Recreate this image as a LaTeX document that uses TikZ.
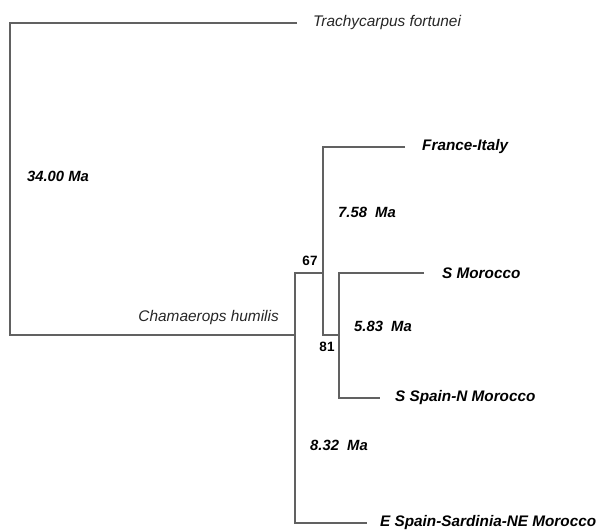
\documentclass[tikz,border=0pt]{standalone}
\usepackage{fontspec}
\setmainfont{Liberation Sans}
\usetikzlibrary{positioning}

\begin{document}
\begin{tikzpicture}[x=1pt,y=-1pt,
  branch/.style={line width=1.4pt,black!62},
  taxon/.style={font=\fontsize{15.3}{18}\selectfont\bfseries\itshape,inner sep=0pt},
  species/.style={font=\fontsize{15.4}{18}\selectfont\itshape,text=black!85,inner sep=0pt},
  age/.style={font=\fontsize{14.8}{18}\selectfont\bfseries\itshape,inner sep=0pt},
  boot/.style={font=\fontsize{13.5}{16}\selectfont\bfseries,inner sep=0pt}]
\useasboundingbox (0,0) rectangle (600,530);
% branching points and tip ends
\coordinate (root) at (10,335);
\coordinate (hum) at (295,335);
\coordinate (clB) at (323,273);
\coordinate (clBlow) at (323,335);
\coordinate (clC) at (339,335);
\coordinate (tfEnd) at (297,23);
\coordinate (fiEnd) at (405,147);
\coordinate (smEnd) at (424,273);
\coordinate (ssEnd) at (380,398);
\coordinate (esEnd) at (367,523);
% branches
\draw[branch] (tfEnd) -| (root) -- (hum);
\draw[branch] (clB) -| (hum) |- (esEnd);
\draw[branch] (fiEnd) -| (clBlow) -- (clC);
\draw[branch] (smEnd) -| (clC) |- (ssEnd);
% tips
\node[species, right=16pt of tfEnd] (tf) {Trachycarpus fortunei};
\node[taxon, right=17pt of fiEnd] (fi) {France-Italy};
\node[taxon, right=18pt of smEnd] (sm) {S Morocco};
\node[taxon, right=15pt of ssEnd] (ss) {S Spain-N Morocco};
\node[taxon, right=13pt of esEnd] (es) {E Spain-Sardinia-NE Morocco};
\node[species, anchor=east] (ch) at (279,318) {Chamaerops humilis};
% ages and support
\node[age] (a34) at (58,176) {34.00 Ma};
\node[age] (a758) at (367,212) {7.58\ \ Ma};
\node[age] (a583) at (383,326) {5.83\ \ Ma};
\node[age] (a832) at (339,445) {8.32\ \ Ma};
\node[boot] (b67) at (310,261) {67};
\node[boot] (b81) at (327,347) {81};
\end{tikzpicture}
\end{document}
